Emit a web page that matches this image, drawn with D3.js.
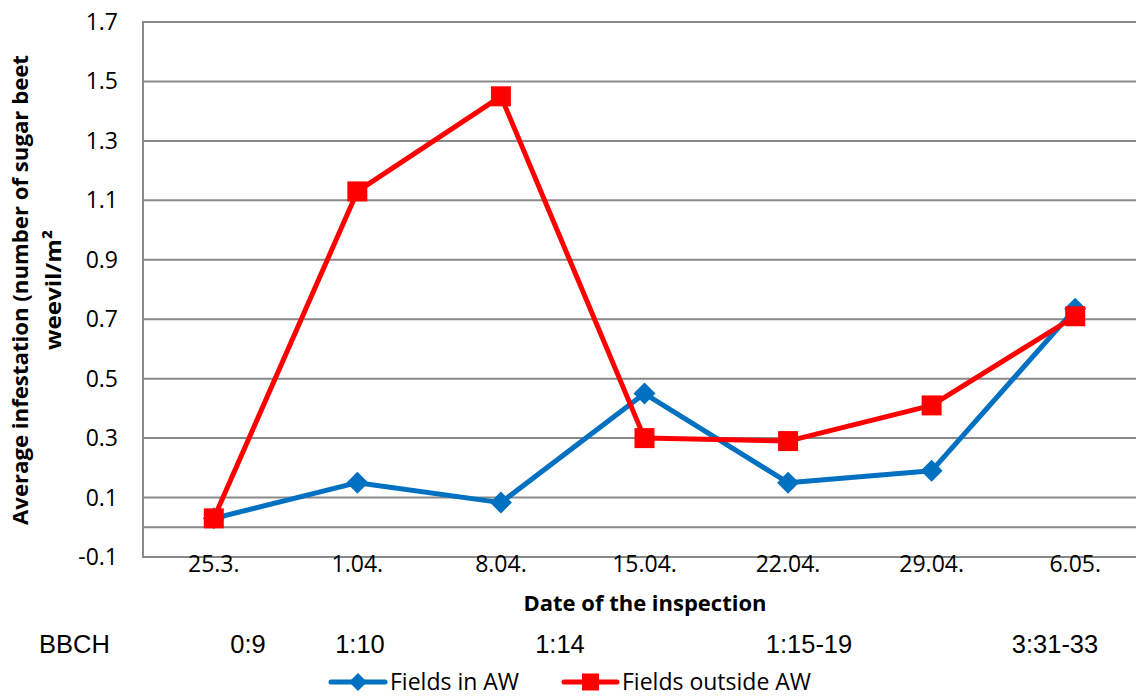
<!doctype html>
<html lang="en">

<head>
  <meta charset="utf-8">
  <style>
    body { margin: 0; background: #fff; }
    text { font-family: "Open Sans", sans-serif; fill: #000; }
  </style>
</head>

<body>
  <script src="https://d3js.org/d3.v7.min.js" charset="utf-8"></script>
  <div id="chart"></div>

  <script>
    // data
    var dates = ["25.3.", "1.04.", "8.04.", "15.04.", "22.04.", "29.04.", "6.05."];
    var inAW = [0.03, 0.15, 0.083, 0.45, 0.15, 0.19, 0.735];
    var outsideAW = [0.03, 1.13, 1.45, 0.30, 0.29, 0.41, 0.71];
    var yTicks = [-0.1, 0.1, 0.3, 0.5, 0.7, 0.9, 1.1, 1.3, 1.5, 1.7];
    var bbchLabels = ["0:9", "1:10", "1:14", "1:15-19", "3:31-33"];
    var seriesNames = ["Fields in AW", "Fields outside AW"];

    // layout
    var width = 1136, height = 696;
    var plotLeft = 142, plotRight = 1147, plotTop = 22, plotBottom = 557;
    var bbchX = [248, 360, 560, 809, 1055];
    var blue = "#0070C0", red = "#FF0000", grid = "#898989";

    var svg = d3.select("#chart")
      .append("svg")
      .attr("width", width)
      .attr("height", height);

    var x = d3.scalePoint().domain(dates).range([plotLeft, plotRight]).padding(0.5);
    var y = d3.scaleLinear().domain([-0.1, 1.7]).range([plotBottom, plotTop]);

    // plain hyphen for negative numbers, like the original
    var fmt = d3.formatLocale({ decimal: ".", thousands: ",", grouping: [3], currency: ["", ""], minus: "-" }).format(".1f");

    // horizontal grid lines plus the line at zero
    svg.append("g").selectAll("line")
      .data(yTicks.concat([0]))
      .enter().append("line")
      .attr("x1", plotLeft).attr("x2", plotRight)
      .attr("y1", d => y(d)).attr("y2", d => y(d))
      .style("stroke", grid)
      .style("stroke-width", 2);

    // left axis line
    svg.append("line")
      .attr("x1", plotLeft + 1).attr("x2", plotLeft + 1)
      .attr("y1", plotTop).attr("y2", plotBottom)
      .style("stroke", grid)
      .style("stroke-width", 2);

    // y tick labels
    svg.append("g").selectAll("text")
      .data(yTicks)
      .enter().append("text")
      .attr("x", 118)
      .attr("y", d => y(d))
      .attr("dy", "0.35em")
      .attr("text-anchor", "end")
      .style("font-size", "23px")
      .text(d => fmt(d));

    // x tick labels
    svg.append("g").selectAll("text")
      .data(dates)
      .enter().append("text")
      .attr("x", d => x(d))
      .attr("y", 572)
      .attr("text-anchor", "middle")
      .style("font-size", "23px")
      .text(d => d);

    // axis titles
    svg.append("text")
      .attr("x", 645).attr("y", 611)
      .attr("text-anchor", "middle")
      .attr("textLength", 243)
      .attr("lengthAdjust", "spacingAndGlyphs")
      .style("font-size", "22px")
      .style("font-weight", "bold")
      .text("Date of the inspection");

    var yTitle = svg.append("text")
      .attr("transform", "translate(28,290) rotate(-90)")
      .attr("text-anchor", "middle")
      .style("font-size", "22px")
      .style("font-weight", "bold");
    yTitle.append("tspan")
      .attr("x", 0).attr("y", 0)
      .attr("textLength", 470)
      .attr("lengthAdjust", "spacingAndGlyphs")
      .text("Average infestation (number of sugar beet");
    yTitle.append("tspan")
      .attr("x", 0).attr("y", 33)
      .attr("textLength", 120)
      .attr("lengthAdjust", "spacingAndGlyphs")
      .text("weevil/m²");

    // BBCH row
    svg.append("text")
      .attr("x", 39).attr("y", 653)
      .style("font-family", "'Liberation Sans', Arial, sans-serif")
      .style("font-size", "25.5px")
      .text("BBCH");
    svg.append("g").selectAll("text")
      .data(bbchLabels)
      .enter().append("text")
      .attr("x", (d, i) => bbchX[i])
      .attr("y", 653)
      .attr("text-anchor", "middle")
      .style("font-family", "'Liberation Sans', Arial, sans-serif")
      .style("font-size", "25.5px")
      .text(d => d);

    // series lines
    var line = d3.line()
      .x((d, i) => x(dates[i]))
      .y(d => y(d));

    function diamond(cx, cy, r) {
      return "M" + cx + "," + (cy - r) + "L" + (cx + r) + "," + cy +
        "L" + cx + "," + (cy + r) + "L" + (cx - r) + "," + cy + "Z";
    }

    svg.append("path")
      .datum(inAW)
      .attr("d", line)
      .style("fill", "none")
      .style("stroke", blue)
      .style("stroke-width", 5)
      .style("stroke-linejoin", "round");
    svg.append("g").selectAll("path")
      .data(inAW)
      .enter().append("path")
      .attr("d", (d, i) => diamond(x(dates[i]), y(d), 11))
      .style("fill", blue);

    svg.append("path")
      .datum(outsideAW)
      .attr("d", line)
      .style("fill", "none")
      .style("stroke", red)
      .style("stroke-width", 5)
      .style("stroke-linejoin", "round");
    svg.append("g").selectAll("rect")
      .data(outsideAW)
      .enter().append("rect")
      .attr("x", (d, i) => x(dates[i]) - 10)
      .attr("y", d => y(d) - 10)
      .attr("width", 20).attr("height", 20)
      .style("fill", red);

    // legend
    var ly = 682;
    var lg = svg.append("g");
    lg.append("line")
      .attr("x1", 331).attr("x2", 385).attr("y1", ly).attr("y2", ly)
      .style("stroke", blue).style("stroke-width", 5).style("stroke-linecap", "round");
    lg.append("path")
      .attr("d", diamond(358, ly, 9))
      .style("fill", blue);
    lg.append("text")
      .attr("x", 390).attr("y", ly).attr("dy", "0.35em")
      .style("font-size", "23px")
      .text(seriesNames[0]);
    lg.append("line")
      .attr("x1", 564).attr("x2", 617).attr("y1", ly).attr("y2", ly)
      .style("stroke", red).style("stroke-width", 5).style("stroke-linecap", "round");
    lg.append("rect")
      .attr("x", 582).attr("y", ly - 8.5)
      .attr("width", 17).attr("height", 17)
      .style("fill", red);
    lg.append("text")
      .attr("x", 622).attr("y", ly).attr("dy", "0.35em")
      .style("font-size", "23px")
      .text(seriesNames[1]);
  </script>
</body>

</html>
